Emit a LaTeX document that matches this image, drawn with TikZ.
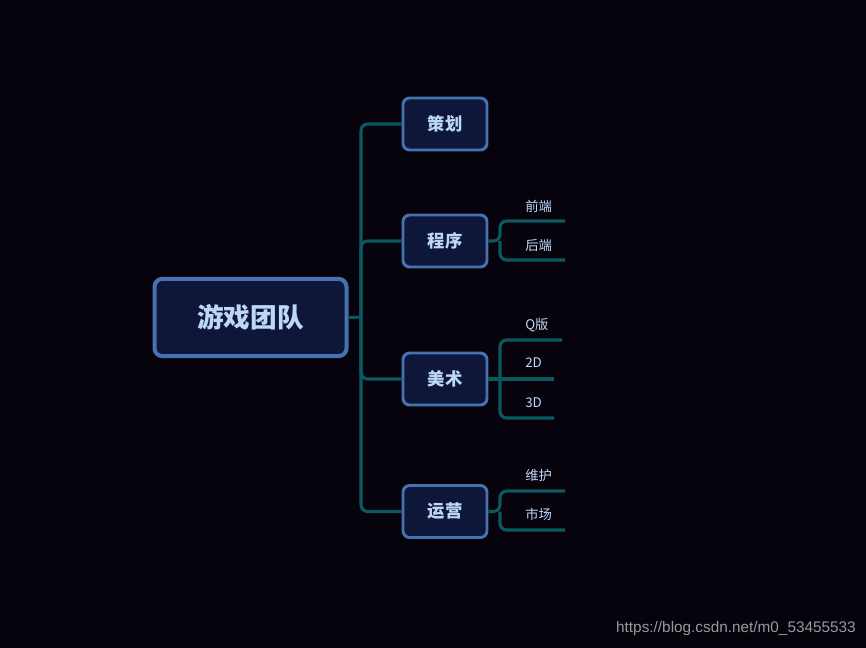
\documentclass[tikz,border=0pt]{standalone}
\usepackage{fontspec}
\setmainfont{Noto Sans CJK SC}
\newfontfamily\cjk{Noto Sans CJK SC}
\definecolor{bg}{HTML}{07030D}
\definecolor{bfill}{HTML}{0E1739}
\definecolor{bdraw}{HTML}{4673B0}
\definecolor{txt}{HTML}{BDD7F7}
\definecolor{ln}{HTML}{0A5860}
\begin{document}
\begin{tikzpicture}[x=0.75pt,y=-0.75pt,
  topic/.style={draw=bdraw,line width=2.2pt,fill=bfill,rounded corners=5pt,text=txt,font=\cjk\bfseries\fontsize{13}{15}\selectfont,minimum width=63pt,minimum height=39pt,inner sep=0pt},
  rootbox/.style={draw=bdraw,line width=3pt,fill=bfill,rounded corners=6pt,text=txt,font=\cjk\bfseries\fontsize{20}{24}\selectfont,minimum width=144pt,minimum height=58pt,inner sep=0pt},
  conn/.style={draw=ln,line width=2.3pt,rounded corners=5pt},
  sub/.style={text=txt,font=\cjk\fontsize{10}{12}\selectfont,anchor=west,inner sep=0pt}]
\fill[bg] (0,0) rectangle (866,648);
\useasboundingbox (0,0) rectangle (866,648);
\node[rootbox] (root) at (250.5,317.5) {游戏团队};
\node[topic] (a) at (445,124) {策划};
\node[topic] (b) at (445,241) {程序};
\node[topic] (c) at (445,379) {美术};
\node[topic] (d) at (445,511.5) {运营};
\coordinate (j) at (361,317);
\draw[conn] (root.east) -- (j);
\draw[conn] (j) -- (361,124) -- (a.west);
\draw[conn] (j) |- (b.west);
\draw[conn] (j) |- (c.west);
\draw[conn] (j) -- (361,511.5) -- (d.west);
% program
\coordinate (b1) at (565,221); \coordinate (b2) at (565,260);
\draw[conn] (b.east) -- (500,241) -- (500,221) -- (b1);
\draw[conn] (500,241) -- (500,260) -- (b2);
\node[sub] (t1) at (525,206) {前端};
\node[sub] (t2) at (525,245) {后端};
% art
\coordinate (c1) at (562,340); \coordinate (c2) at (554,379); \coordinate (c3) at (554,418);
\draw[conn] (c.east) -- (c2);
\draw[conn] (500,379) -- (500,340) -- (c1);
\draw[conn] (500,379) -- (500,418) -- (c3);
\node[sub] (t3) at (525,325) {Q版};
\node[sub] (t4) at (525,363) {2D};
\node[sub] (t5) at (525,403) {3D};
% ops
\coordinate (d1) at (565,491); \coordinate (d2) at (565,530);
\draw[conn] (d.east) -- (500,511.5) -- (500,491) -- (d1);
\draw[conn] (500,511.5) -- (500,530) -- (d2);
\node[sub] (t6) at (525,475) {维护};
\node[sub] (t7) at (525,514) {市场};
\node[text=gray!80,font=\fontspec{Liberation Sans}\fontsize{11.5}{13}\selectfont,anchor=east,inner sep=0pt] (w) at (856,629) {https://blog.csdn.net/m0\_53455533};
\end{tikzpicture}
\end{document}
